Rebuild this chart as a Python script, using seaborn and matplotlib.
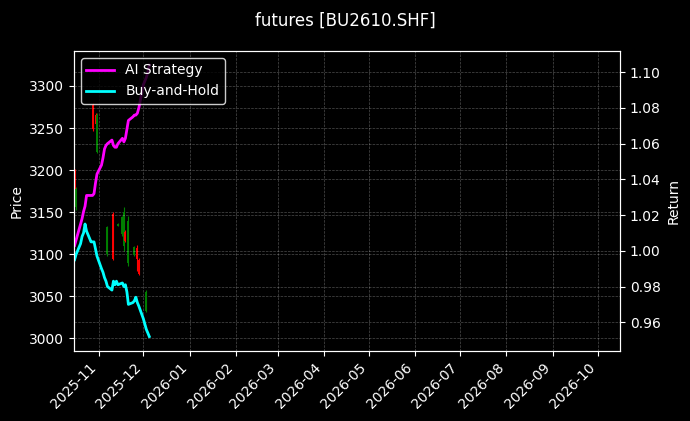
import matplotlib
matplotlib.use("Agg")
import matplotlib.pyplot as plt
import matplotlib.dates as mdates
import pandas as pd
import seaborn as sns

# ---------------- data ----------------
dates = pd.bdate_range("2025-10-16", "2025-12-05")
ai_strategy = [1.003, 1.006, 1.015, 1.018, 1.022, 1.025, 1.031, 1.031, 1.031, 1.032, 1.038, 1.043,
               1.048, 1.052, 1.057, 1.059, 1.060, 1.062, 1.059, 1.058, 1.058, 1.060, 1.063, 1.061,
               1.063, 1.068, 1.073, 1.075, 1.076, 1.076, 1.077, 1.080,
               1.093, 1.095, 1.097, 1.100, 1.104]
buy_hold = [0.995, 0.998, 1.004, 1.008, 1.010, 1.015, 1.011, 1.005, 1.005, 1.005, 1.001, 0.997,
            0.990, 0.988, 0.985, 0.983, 0.980, 0.978, 0.983, 0.981, 0.983, 0.981, 0.982, 0.980,
            0.981, 0.977, 0.970, 0.971, 0.972, 0.974, 0.971, 0.969,
            0.962, 0.959, 0.956, 0.954, 0.952]

candle_dates = pd.to_datetime(["2025-10-16", "2025-10-17", "2025-10-28", "2025-10-30", "2025-10-31",
                               "2025-11-07", "2025-11-11", "2025-11-14", "2025-11-17", "2025-11-18",
                               "2025-11-19", "2025-11-21", "2025-11-25", "2025-11-27", "2025-11-28",
                               "2025-12-03"])
candle_open = [3174, 3178, 3249, 3255, 3266, 3132, 3094, 3136, 3144, 3150, 3116, 3140, 3109, 3094, 3077, 3055]
candle_high = [3201, 3180, 3280, 3268, 3268, 3134, 3150, 3137, 3146, 3156, 3129, 3146, 3110, 3111, 3095, 3057]
candle_low = [3172, 3153, 3246, 3254, 3220, 3098, 3093, 3133, 3122, 3104, 3115, 3086, 3098, 3080, 3075, 3031]
candle_close = [3198, 3156, 3277, 3266, 3222, 3100, 3148, 3134, 3124, 3110, 3127, 3090, 3099, 3108, 3093, 3033]

title = "futures [BU2610.SHF]"
x_start, x_end = pd.Timestamp("2025-10-15 14:00"), pd.Timestamp("2026-10-16")

# ---------------- style ----------------
plt.style.use("dark_background")
plt.rcParams["font.family"] = ["DejaVu Sans"]

fig = plt.figure(figsize=(6.9, 4.21), dpi=100)
ax = fig.add_axes([0.1072, 0.1663, 0.7914, 0.7126])
ax.set_facecolor("black")

# candles
cols = ["red" if c >= o else "green" for o, c in zip(candle_open, candle_close)]
ax.vlines(candle_dates, candle_low, candle_high, colors=cols, linewidth=0.8)
ax.vlines(candle_dates, [min(o, c) for o, c in zip(candle_open, candle_close)],
          [max(o, c) for o, c in zip(candle_open, candle_close)], colors=cols, linewidth=1.4)

ax.set_ylim(2985, 3341.6)
ax.set_xlim(x_start, x_end)
ax.set_ylabel("Price", color="white")
ax.grid(True, linestyle="--", linewidth=0.5, alpha=0.3)

ax2 = ax.twinx()
df = pd.DataFrame({"date": dates, "AI Strategy": ai_strategy, "Buy-and-Hold": buy_hold})
sns.lineplot(data=df, x="date", y="AI Strategy", ax=ax2, color="#ff00ff", linewidth=2, label="AI Strategy")
sns.lineplot(data=df, x="date", y="Buy-and-Hold", ax=ax2, color="#00ffff", linewidth=2, label="Buy-and-Hold")
ax2.set_ylim(0.9439, 1.1119)
ax2.set_ylabel("Return", color="white")
ax2.set_xlabel("")
ax2.grid(True, linestyle="--", linewidth=0.5, alpha=0.3)
ax2.set_xlim(x_start, x_end)

ax.xaxis.set_major_locator(mdates.MonthLocator())
ax.xaxis.set_major_formatter(mdates.DateFormatter("%Y-%m"))
for lbl in ax.get_xticklabels():
    lbl.set_rotation(45)
    lbl.set_ha("right")
ax.set_xlabel("")

leg = ax2.legend(loc="upper left", facecolor="black", edgecolor="white", fontsize=10)
for t in leg.get_texts():
    t.set_color("white")

fig.suptitle(title, color="white", fontsize=12, y=0.972)
fig.savefig("out.png", dpi=100, facecolor="black")
